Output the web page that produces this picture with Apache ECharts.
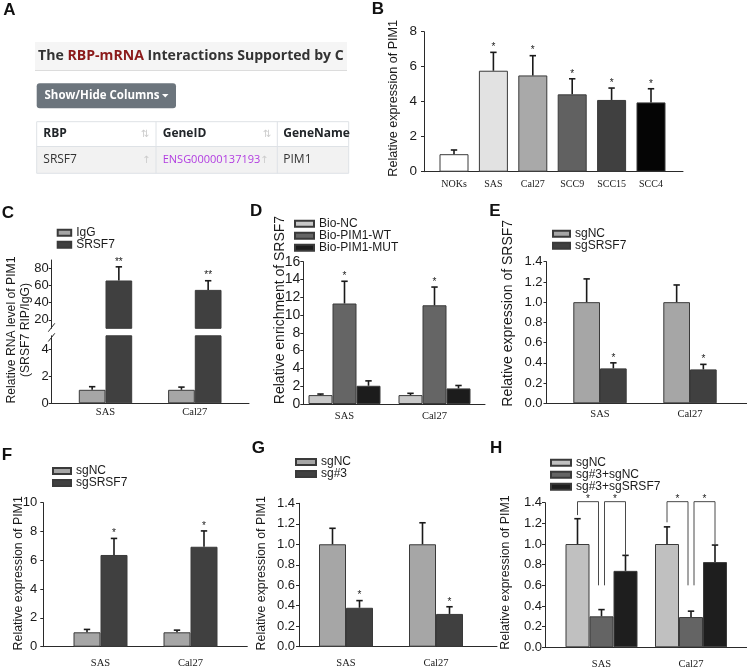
<!DOCTYPE html>
<html><head><meta charset="utf-8">
<script src="https://cdn.jsdelivr.net/npm/echarts@6/dist/echarts.min.js"></script>
<style>html,body{margin:0;padding:0;background:#fff}#c{width:747px;height:668px}</style>
</head><body><div id="c"></div>
<script>
// ================= DATA =================
const cellLines = ['SAS', 'Cal27'];

// Panel B
const bCategories = ['NOKs', 'SAS', 'Cal27', 'SCC9', 'SCC15', 'SCC4'];
const bValues = [1.0, 5.77, 5.5, 4.42, 4.1, 3.96];
const bErrors = [0.24, 1.05, 1.13, 0.89, 0.68, 0.78];
const bStars = ['', '*', '*', '*', '*', '*'];

// Panel C (broken axis)
const cIgG = [1.0, 1.0];
const cIgGErr = [0.23, 0.2];
const cSRSF7 = [66, 55];
const cSRSF7Err = [16, 10.7];
const cStars = ['**', '**'];
const cUpperTicks = [20, 40, 60, 80];
const cLowerTicks = [0, 2, 4];

// Panel D
const dBioNC = [1.0, 1.0];
const dBioNCErr = [0.12, 0.2];
const dWT = [11.3, 11.1];
const dWTErr = [2.5, 2.05];
const dMUT = [2.05, 1.75];
const dMUTErr = [0.55, 0.33];
const dStars = ['*', '*'];

// Panel E
const eSgNC = [1.0, 1.0];
const eSgNCErr = [0.23, 0.17];
const eSgSRSF7 = [0.345, 0.335];
const eSgSRSF7Err = [0.055, 0.05];
const eStars = ['*', '*'];

// Panel F
const fSgNC = [1.0, 1.0];
const fSgNCErr = [0.2, 0.15];
const fSgSRSF7 = [6.37, 6.94];
const fSgSRSF7Err = [1.15, 1.1];
const fStars = ['*', '*'];

// Panel G
const gSgNC = [1.0, 1.0];
const gSgNCErr = [0.156, 0.21];
const gSg3 = [0.38, 0.32];
const gSg3Err = [0.07, 0.07];
const gStars = ['*', '*'];

// Panel H
const hSgNC = [1.0, 1.0];
const hSgNCErr = [0.245, 0.166];
const hSg3NC = [0.30, 0.293];
const hSg3NCErr = [0.065, 0.057];
const hSg3SRSF7 = [0.74, 0.825];
const hSg3SRSF7Err = [0.15, 0.165];
const hBracketLevel = [1.41, 1.41];
const hBracketLegEnds = [[1.28, 0.6, 0.6, 0.89], [1.21, 0.6, 0.6, 0.99]];

// ================= STYLE =================
const AX = '#2a2a2a';
const TXT = '#1a1a1a';
const FONT = 'Liberation Sans';
const SERIF = 'Liberation Serif';
const bColors = ['#ffffff', '#e2e2e2', '#a9a9a9', '#616161', '#404040', '#050505'];

const option = {animation: false, backgroundColor: '#ffffff', grid: [], xAxis: [], yAxis: [], series: [], legend: [], graphic: []};

function frame(o) {
  const gi = option.grid.length;
  option.grid.push({left: o.left, top: o.top, width: o.width, height: o.height, containLabel: false, outerBoundsMode: 'none'});
  option.xAxis.push({gridIndex: gi, type: 'value', min: 0, max: 1, show: o.showX !== false,
    axisLine: {show: true, onZero: false, lineStyle: {color: AX, width: 1}},
    axisTick: {show: false}, axisLabel: {show: false}, splitLine: {show: false}});
  const y = {gridIndex: gi, type: 'value', min: o.min, max: o.max,
    axisLine: {show: true, onZero: false, lineStyle: {color: AX, width: 1}},
    axisTick: {show: true, length: 3, lineStyle: {color: AX, width: 1}},
    axisLabel: {show: true, fontSize: o.fs, fontFamily: FONT, color: TXT, margin: o.margin},
    splitLine: {show: false}};
  if (o.fmt) y.axisLabel.formatter = o.fmt;
  if (o.interval != null) y.interval = o.interval;
  if (o.ticks) { y.axisLabel.customValues = o.ticks; y.axisTick.customValues = o.ticks; }
  option.yAxis.push(y);
  return gi;
}
function barGrid(o) {
  const gi = option.grid.length;
  option.grid.push({left: o.left, top: o.top, width: o.width, height: o.height, containLabel: false, outerBoundsMode: 'none'});
  option.xAxis.push({gridIndex: gi, type: 'category', data: o.cats,
    axisLine: {show: false}, axisTick: {show: false}, splitLine: {show: false},
    axisLabel: {show: o.labels !== false, interval: 0, fontFamily: SERIF, fontSize: o.xfs || 10.5, color: TXT, margin: o.xmargin || 6}});
  option.yAxis.push({gridIndex: gi, type: 'value', min: o.min, max: o.max, show: false});
  return gi;
}
function bars(gi, name, data, color, bw) {
  option.series.push({type: 'bar', name, xAxisIndex: gi, yAxisIndex: gi, data, barWidth: bw, barGap: '0%',
    clip: true, silent: true, itemStyle: {color, borderColor: '#3a3a3a', borderWidth: 1}});
}
function errs(gi, values, errors, k, n, bw, stars, starSize) {
  option.series.push({type: 'custom', xAxisIndex: gi, yAxisIndex: gi, silent: true, clip: false, z: 5,
    data: values.map((v, i) => [i, v, errors[i]]),
    renderItem: (params, api) => {
      const i = api.value(0), v = api.value(1), e = api.value(2);
      const p0 = api.coord([i, v]), p1 = api.coord([i, v + e]);
      const x = p0[0] + (k - (n - 1) / 2) * bw;
      const st = {stroke: '#1a1a1a', lineWidth: 1.6};
      const ch = [
        {type: 'line', shape: {x1: x, y1: p0[1], x2: x, y2: p1[1]}, style: st},
        {type: 'line', shape: {x1: x - 3.2, y1: p1[1], x2: x + 3.2, y2: p1[1]}, style: st}
      ];
      const s = stars ? stars[i] : '';
      if (s) ch.push({type: 'text', x: x, y: p1[1], style: {text: s, fontSize: starSize || 10, fontFamily: FONT, fill: TXT, align: 'center', verticalAlign: 'bottom'}});
      return {type: 'group', children: ch};
    }});
}
function legend(left, top, names, iw) {
  option.legend.push({orient: 'vertical', left, top, padding: 0, itemGap: 0, itemWidth: iw, itemHeight: 6,
    icon: 'rect', selectedMode: false, data: names, formatter: nm => nm.split('|')[1],
    textStyle: {fontSize: 12, fontFamily: FONT, color: TXT, lineHeight: 10}});
}
function ytitle(x, y, text, fs, lh) {
  option.graphic.push({type: 'text', x, y, rotation: Math.PI / 2, silent: true,
    style: {text, fill: TXT, fontSize: fs, fontFamily: FONT, align: 'center', verticalAlign: 'middle', lineHeight: lh || fs * 1.15}});
}
function letter(x, y, t) {
  option.graphic.push({type: 'text', x, y, silent: true, style: {text: t, fill: '#111', fontSize: 17, fontWeight: 'bold', fontFamily: FONT, align: 'left', verticalAlign: 'middle'}});
}

// ================= PANEL A (screenshot of table) =================
const OS = 'Open Sans';
option.graphic.push(
  {type: 'rect', silent: true, shape: {x: 35, y: 42, width: 312, height: 28}, style: {fill: '#f5f5f5'}},
  {type: 'line', silent: true, shape: {x1: 35, y1: 70.5, x2: 347, y2: 70.5}, style: {stroke: '#dcdcdc', lineWidth: 1}},
  {type: 'text', silent: true, x: 38, y: 56, style: {text: '{a|The }{b|RBP-mRNA}{a| Interactions Supported by C}', verticalAlign: 'middle',
    rich: {a: {fill: '#333333', fontSize: 14.1, fontWeight: 'bold', fontFamily: OS}, b: {fill: '#8b1a1a', fontSize: 14.1, fontWeight: 'bold', fontFamily: OS}}}},
  {type: 'rect', silent: true, shape: {x: 36.7, y: 83.3, width: 139.3, height: 25, r: 3}, style: {fill: '#6c757d'}},
  {type: 'text', silent: true, x: 44.5, y: 96, style: {text: 'Show/Hide Columns', fill: '#ffffff', fontSize: 11.5, fontWeight: 'bold', fontFamily: OS, verticalAlign: 'middle'}},
  {type: 'polygon', silent: true, shape: {points: [[162, 94], [168.5, 94], [165.25, 97.5]]}, style: {fill: '#ffffff'}},
  {type: 'rect', silent: true, shape: {x: 36.7, y: 121.7, width: 312, height: 24.8}, style: {fill: '#ffffff', stroke: '#dee2e6', lineWidth: 1}},
  {type: 'rect', silent: true, shape: {x: 36.7, y: 146.5, width: 312, height: 26.8}, style: {fill: '#f2f2f2', stroke: '#dee2e6', lineWidth: 1}},
  {type: 'line', silent: true, shape: {x1: 156, y1: 121.7, x2: 156, y2: 173.3}, style: {stroke: '#dee2e6', lineWidth: 1}},
  {type: 'line', silent: true, shape: {x1: 277.3, y1: 121.7, x2: 277.3, y2: 173.3}, style: {stroke: '#dee2e6', lineWidth: 1}},
  {type: 'text', silent: true, x: 43.3, y: 134, style: {text: 'RBP', fill: '#212529', fontSize: 12, fontWeight: 'bold', fontFamily: OS, verticalAlign: 'middle'}},
  {type: 'text', silent: true, x: 162.7, y: 134, style: {text: 'GeneID', fill: '#212529', fontSize: 12, fontWeight: 'bold', fontFamily: OS, verticalAlign: 'middle'}},
  {type: 'text', silent: true, x: 283.3, y: 134, style: {text: 'GeneName', fill: '#212529', fontSize: 12, fontWeight: 'bold', fontFamily: OS, verticalAlign: 'middle'}},
  {type: 'text', silent: true, x: 141, y: 134, style: {text: '⇅', fill: '#cccccc', fontSize: 10, fontFamily: 'DejaVu Sans', verticalAlign: 'middle'}},
  {type: 'text', silent: true, x: 263, y: 134, style: {text: '⇅', fill: '#cccccc', fontSize: 10, fontFamily: 'DejaVu Sans', verticalAlign: 'middle'}},
  {type: 'text', silent: true, x: 43.3, y: 160, style: {text: 'SRSF7', fill: '#333333', fontSize: 12, fontFamily: OS, verticalAlign: 'middle'}},
  {type: 'text', silent: true, x: 142, y: 160, style: {text: '↑', fill: '#cccccc', fontSize: 10, fontFamily: 'DejaVu Sans', verticalAlign: 'middle'}},
  {type: 'text', silent: true, x: 162.7, y: 160, style: {text: 'ENSG00000137193', fill: '#b13ce0', fontSize: 11, fontFamily: OS, verticalAlign: 'middle'}},
  {type: 'text', silent: true, x: 260, y: 160, style: {text: '↑', fill: '#cccccc', fontSize: 10, fontFamily: 'DejaVu Sans', verticalAlign: 'middle'}},
  {type: 'text', silent: true, x: 283.3, y: 160, style: {text: 'PIM1', fill: '#333333', fontSize: 12, fontFamily: OS, verticalAlign: 'middle'}}
);

// ================= PANEL B =================
frame({left: 424, top: 31.7, width: 259, height: 140, min: 0, max: 8, interval: 2, fs: 13.5, margin: 7});
const gB = barGrid({left: 434.3, top: 31.7, width: 236.4, height: 140, min: 0, max: 8, cats: bCategories, xfs: 10, xmargin: 8});
option.series.push({type: 'bar', name: 'B|PIM1', xAxisIndex: gB, yAxisIndex: gB, barWidth: 29, silent: true, clip: true,
  data: bValues.map((v, i) => ({value: v, itemStyle: {color: bColors[i]}})),
  itemStyle: {borderColor: '#3a3a3a', borderWidth: 1}});
errs(gB, bValues, bErrors, 0, 1, 29, bStars, 10);
ytitle(394, 98.3, 'Relative expression of PIM1', 12.6);

// ================= PANEL C =================
frame({left: 51.7, top: 260, width: 197.3, height: 68.3, min: 10, max: 90, ticks: cUpperTicks, fs: 13, margin: 3, showX: false});
frame({left: 51.7, top: 335.8, width: 197.3, height: 67.5, min: 0, max: 5, ticks: cLowerTicks, fs: 13, margin: 3});
const gCu = barGrid({left: 60.85, top: 260, width: 178.6, height: 68.3, min: 10, max: 90, cats: cellLines, labels: false});
const gCl = barGrid({left: 60.85, top: 335.8, width: 178.6, height: 67.5, min: 0, max: 5, cats: cellLines, xfs: 10.5, xmargin: 3});
bars(gCu, 'C|IgG', cIgG, '#a6a6a6', 26.7);
bars(gCu, 'C|SRSF7', cSRSF7, '#404040', 26.7);
bars(gCl, 'C|IgG', cIgG, '#a6a6a6', 26.7);
bars(gCl, 'C|SRSF7', cSRSF7, '#404040', 26.7);
errs(gCl, cIgG, cIgGErr, 0, 2, 26.7);
errs(gCu, cSRSF7, cSRSF7Err, 1, 2, 26.7, cStars, 10);
legend(56.7, 226.7, ['C|IgG', 'C|SRSF7'], 13.5);
ytitle(18.5, 330, 'Relative RNA level of PIM1\n(SRSF7 RIP/IgG)', 12.2, 13.6);
option.graphic.push(
  {type: 'line', silent: true, shape: {x1: 48.3, y1: 331.7, x2: 54.8, y2: 323.3}, style: {stroke: AX, lineWidth: 1}},
  {type: 'line', silent: true, shape: {x1: 48.3, y1: 341.5, x2: 54.8, y2: 333.3}, style: {stroke: AX, lineWidth: 1}}
);

// ================= PANEL D =================
frame({left: 303.3, top: 261.7, width: 181.7, height: 142.3, min: 0, max: 16, interval: 2, fs: 14, margin: 3});
const gD = barGrid({left: 299.5, top: 261.7, width: 180, height: 142.3, min: 0, max: 16, cats: cellLines, xfs: 10.5, xmargin: 7});
bars(gD, 'D|Bio-NC', dBioNC, '#c8c8c8', 24);
bars(gD, 'D|Bio-PIM1-WT', dWT, '#656565', 24);
bars(gD, 'D|Bio-PIM1-MUT', dMUT, '#1c1c1c', 24);
errs(gD, dBioNC, dBioNCErr, 0, 3, 24);
errs(gD, dWT, dWTErr, 1, 3, 24, dStars, 10);
errs(gD, dMUT, dMUTErr, 2, 3, 24);
legend(294, 217.7, ['D|Bio-NC', 'D|Bio-PIM1-WT', 'D|Bio-PIM1-MUT'], 19);
ytitle(280, 310, 'Relative enrichment of SRSF7', 14);

// ================= PANEL E =================
const fmt1 = v => v.toFixed(1);
frame({left: 546.5, top: 261.7, width: 200.5, height: 141.6, min: 0, max: 1.4, interval: 0.2, fmt: fmt1, fs: 13, margin: 4});
const gE = barGrid({left: 555, top: 261.7, width: 180, height: 141.6, min: 0, max: 1.4, cats: cellLines, xfs: 10.5, xmargin: 5});
bars(gE, 'E|sgNC', eSgNC, '#a6a6a6', 26.7);
bars(gE, 'E|sgSRSF7', eSgSRSF7, '#404040', 26.7);
errs(gE, eSgNC, eSgNCErr, 0, 2, 26.7);
errs(gE, eSgSRSF7, eSgSRSF7Err, 1, 2, 26.7, eStars, 10);
legend(552, 227.7, ['E|sgNC', 'E|sgSRSF7'], 17);
ytitle(508, 313.3, 'Relative expression of SRSF7', 14);

// ================= PANEL F =================
frame({left: 43.3, top: 502.7, width: 204, height: 144, min: 0, max: 10, interval: 2, fs: 13, margin: 6});
const gF = barGrid({left: 55.5, top: 502.7, width: 180, height: 144, min: 0, max: 10, cats: cellLines, xfs: 10.5, xmargin: 11});
bars(gF, 'F|sgNC', fSgNC, '#a6a6a6', 27);
bars(gF, 'F|sgSRSF7', fSgSRSF7, '#404040', 27);
errs(gF, fSgNC, fSgNCErr, 0, 2, 27);
errs(gF, fSgSRSF7, fSgSRSF7Err, 1, 2, 27, fStars, 10);
legend(52, 465, ['F|sgNC', 'F|sgSRSF7'], 18);
ytitle(18.3, 573.3, 'Relative expression of PIM1', 12.4);

// ================= PANEL G =================
frame({left: 299, top: 503.3, width: 198, height: 143.4, min: 0, max: 1.4, interval: 0.2, fmt: fmt1, fs: 13, margin: 4});
const gG = barGrid({left: 301, top: 503.3, width: 180, height: 143.4, min: 0, max: 1.4, cats: cellLines, xfs: 10.5, xmargin: 11});
bars(gG, 'G|sgNC', gSgNC, '#a6a6a6', 27);
bars(gG, 'G|sg#3', gSg3, '#404040', 27);
errs(gG, gSgNC, gSgNCErr, 0, 2, 27);
errs(gG, gSg3, gSg3Err, 1, 2, 27, gStars, 10);
legend(295, 456, ['G|sgNC', 'G|sg#3'], 20);
ytitle(261.7, 573.3, 'Relative expression of PIM1', 12.4);

// ================= PANEL H =================
frame({left: 545, top: 502.7, width: 202, height: 144.6, min: 0, max: 1.4, interval: 0.2, fmt: fmt1, fs: 13, margin: 3});
const gH = barGrid({left: 556.75, top: 502.7, width: 179, height: 144.6, min: 0, max: 1.4, cats: cellLines, xfs: 10.5, xmargin: 11});
bars(gH, 'H|sgNC', hSgNC, '#c0c0c0', 24);
bars(gH, 'H|sg#3+sgNC', hSg3NC, '#646464', 24);
bars(gH, 'H|sg#3+sgSRSF7', hSg3SRSF7, '#1e1e1e', 24);
errs(gH, hSgNC, hSgNCErr, 0, 3, 24);
errs(gH, hSg3NC, hSg3NCErr, 1, 3, 24);
errs(gH, hSg3SRSF7, hSg3SRSF7Err, 2, 3, 24);
option.series.push({type: 'custom', xAxisIndex: gH, yAxisIndex: gH, silent: true, clip: false, z: 6,
  data: cellLines.map((c, i) => [i, hBracketLevel[i]]),
  renderItem: (params, api) => {
    const i = api.value(0), lvl = api.value(1);
    const p = api.coord([i, lvl]);
    const bw = 24;
    const xs = [p[0] - bw, p[0] - 3, p[0] + 3, p[0] + bw];
    const ys = hBracketLegEnds[i].map(v => api.coord([i, v])[1]);
    const st = {stroke: '#4a4a4a', lineWidth: 1, fill: null};
    const starSt = (x) => ({type: 'text', x, y: p[1] + 3, style: {text: '*', fontSize: 10, fontFamily: FONT, fill: TXT, align: 'center', verticalAlign: 'bottom'}});
    return {type: 'group', children: [
      {type: 'polyline', shape: {points: [[xs[0], ys[0]], [xs[0], p[1]], [xs[1], p[1]], [xs[1], ys[1]]]}, style: st},
      {type: 'polyline', shape: {points: [[xs[2], ys[2]], [xs[2], p[1]], [xs[3], p[1]], [xs[3], ys[3]]]}, style: st},
      starSt((xs[0] + xs[1]) / 2), starSt((xs[2] + xs[3]) / 2)
    ]};
  }});
legend(550, 456.7, ['H|sgNC', 'H|sg#3+sgNC', 'H|sg#3+sgSRSF7'], 20);
ytitle(505.3, 572.5, 'Relative expression of PIM1', 12.4);

// ================= LETTERS =================
letter(3.3, 10.5, 'A'); letter(371.7, 9.2, 'B'); letter(1.7, 213.7, 'C'); letter(250, 211.7, 'D');
letter(489.3, 211.7, 'E'); letter(1.7, 455.5, 'F'); letter(251.7, 448.3, 'G'); letter(490, 448.3, 'H');

const chart = echarts.init(document.getElementById('c'), null, {renderer: 'canvas'});
chart.setOption(option);
</script>
</body></html>
